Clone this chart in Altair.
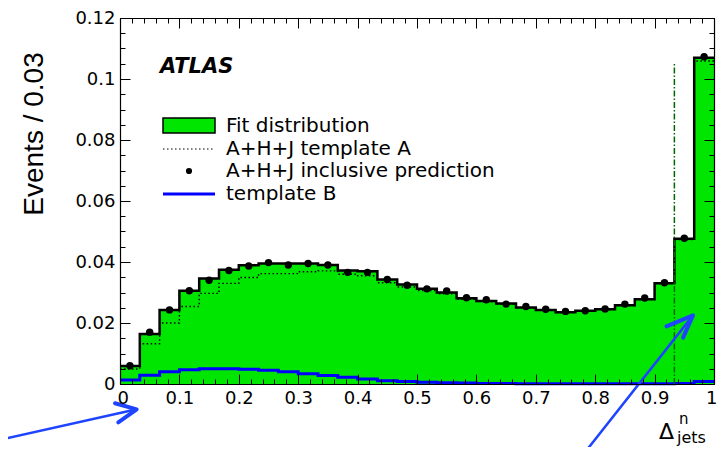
import altair as alt
import numpy as np
import pandas as pd

# ---------------- data ----------------
n_bins = 30
fit_values = [0.0059, 0.0164, 0.0243, 0.0306, 0.0346, 0.0375, 0.0389, 0.0395, 0.0395, 0.0395,
              0.0390, 0.0372, 0.0370, 0.0343, 0.0326, 0.0312, 0.0300, 0.0281, 0.0272, 0.0264,
              0.0251, 0.0243, 0.0235, 0.0240, 0.0245, 0.0258, 0.0278, 0.0330, 0.0476, 0.1070]
template_a = [0.0049, 0.0132, 0.0200, 0.0254, 0.0297, 0.0330, 0.0349, 0.0362, 0.0362, 0.0368,
              0.0371, 0.0360, 0.0355, 0.0332, 0.0318, 0.0306, 0.0296, 0.0278, 0.0270, 0.0262,
              0.0250, 0.0242, 0.0234, 0.0239, 0.0244, 0.0257, 0.0277, 0.0329, 0.0474, 0.1059]
template_b = [0.0013, 0.0029, 0.0040, 0.0047, 0.0050, 0.0050, 0.0048, 0.0045, 0.0040, 0.0034,
              0.0028, 0.0022, 0.0016, 0.0011, 0.0008, 0.0006, 0.0004, 0.0003, 0.0002, 0.0002,
              0.0001, 0.0001, 0.0001, 0.0001, 0.0001, 0.0001, 0.0001, 0.0001, 0.0002, 0.0008]
prediction = [0.0060, 0.0170, 0.0243, 0.0306, 0.0340, 0.0372, 0.0387, 0.0398, 0.0390, 0.0395,
              0.0390, 0.0366, 0.0366, 0.0343, 0.0324, 0.0312, 0.0305, 0.0283, 0.0276, 0.0262,
              0.0254, 0.0245, 0.0238, 0.0240, 0.0246, 0.0262, 0.0282, 0.0332, 0.0478, 0.1073]

boundary_x = [0.9333]
boundary_top = [0.105]

x_major = [0.0, 0.1, 0.2, 0.3, 0.4, 0.5, 0.6, 0.7, 0.8, 0.9, 1.0]
x_minor = [round(i * 0.02, 2) for i in range(51)]
y_major = [0.0, 0.02, 0.04, 0.06, 0.08, 0.10, 0.12]
y_minor = [round(i * 0.005, 3) for i in range(25)]

legend_labels = ["Fit distribution", "A+H+J template A", "A+H+J inclusive prediction", "template B"]

# annotation arrows (in data coordinates): shaft start, tip, two head arms
arrow_shafts = [
    [(-0.202, -0.0183), (0.0281, -0.0083)],
    [(0.7795, -0.0232), (0.9646, 0.0225)],
]
arrow_heads = [
    [(-0.0084, -0.0063), (0.0281, -0.0083), (-0.0029, -0.0126)],
    [(0.920, 0.0189), (0.9646, 0.0225), (0.948, 0.0152)],
]

# ---------------- tables ----------------
edges = np.linspace(0, 1, n_bins + 1)
step_df = pd.DataFrame({
    "x": edges,
    "fit": fit_values + [fit_values[-1]],
    "a": template_a + [template_a[-1]],
    "b": template_b + [template_b[-1]],
})
pts_df = pd.DataFrame({"x": (edges[:-1] + edges[1:]) / 2, "pred": prediction})
vline_df = pd.DataFrame({"x": boundary_x, "y": [0.0], "y2": boundary_top})

shaft_rows, head_rows = [], []
for i, seg in enumerate(arrow_shafts):
    for k, (xx, yy) in enumerate(seg):
        shaft_rows.append({"seg": i, "o": k, "x": xx, "y": yy})
for i, seg in enumerate(arrow_heads):
    for k, (xx, yy) in enumerate(seg):
        head_rows.append({"seg": i, "o": k, "x": xx, "y": yy})
shaft_df = pd.DataFrame(shaft_rows)
head_df = pd.DataFrame(head_rows)

# ---------------- scales & axes ----------------
xs = alt.Scale(domain=[0, 1], nice=False, zero=False)
ys = alt.Scale(domain=[0, 0.12], nice=False, zero=False)

LBL = "DejaVu Sans"


def lab_axis(orient, values, fmt, pad, flush=False):
    kw = dict(orient=orient, values=values, format=fmt, ticks=False, tickSize=0,
              domain=True, domainColor="black", domainWidth=1.2, labelFont=LBL,
              labelFontSize=18, labelColor="black", labelPadding=pad, grid=False,
              title=None, zindex=2, labelOverlap=False)
    if flush:
        kw.update(labelFlush=True, labelFlushOffset=3)
    else:
        kw.update(labelFlush=False)
    return alt.Axis(**kw)


def tick_axis(orient, values, size):
    return alt.Axis(orient=orient, values=values, offset=-size, tickSize=size, ticks=True,
                    tickColor="black", tickWidth=1, labels=False, domain=False, grid=False,
                    title=None, zindex=2)


def frame_axis(orient):
    return alt.Axis(orient=orient, ticks=False, labels=False, domain=True, domainColor="black",
                    domainWidth=1.2, grid=False, title=None, zindex=2)


x_axes = [lab_axis("bottom", x_major, ".1~f", 5, flush=True), tick_axis("bottom", x_major, 10),
          tick_axis("bottom", x_minor, 5), tick_axis("top", x_major, 10),
          tick_axis("top", x_minor, 5), frame_axis("top")]
y_axes = [lab_axis("left", y_major, ".2~f", 5), tick_axis("left", y_major, 10),
          tick_axis("left", y_minor, 5), tick_axis("right", y_major, 10),
          tick_axis("right", y_minor, 5), frame_axis("right")]

GREEN = "#00e600"
BLUE = "#0000ff"
ARROW = "#1f44ff"

area = alt.Chart(step_df).mark_area(interpolate="step-after", color=GREEN).encode(
    x=alt.X("x:Q", scale=xs, axis=x_axes[0]),
    y=alt.Y("fit:Q", scale=ys, axis=y_axes[0]),
)
tmpl_a = alt.Chart(step_df).mark_line(interpolate="step-after", color="black",
                                      strokeWidth=1.4, strokeDash=[1.5, 2.5]).encode(
    x=alt.X("x:Q", scale=xs, axis=x_axes[1]),
    y=alt.Y("a:Q", scale=ys, axis=y_axes[1]),
)
outline = alt.Chart(step_df).mark_line(interpolate="step-after", color="black",
                                       strokeWidth=2.5).encode(
    x=alt.X("x:Q", scale=xs, axis=x_axes[2]),
    y=alt.Y("fit:Q", scale=ys, axis=y_axes[2]),
)
tmpl_b = alt.Chart(step_df).mark_line(interpolate="step-after", color=BLUE,
                                      strokeWidth=3).encode(
    x=alt.X("x:Q", scale=xs, axis=x_axes[3]),
    y=alt.Y("b:Q", scale=ys, axis=y_axes[3]),
)
points = alt.Chart(pts_df).mark_circle(size=55, color="black", opacity=1).encode(
    x=alt.X("x:Q", scale=xs, axis=x_axes[4]),
    y=alt.Y("pred:Q", scale=ys, axis=y_axes[4]),
)
vline = alt.Chart(vline_df).mark_rule(color="#006600", strokeWidth=1.5,
                                      strokeDash=[6, 2, 1.5, 2]).encode(
    x=alt.X("x:Q", scale=xs, axis=x_axes[5]),
    y=alt.Y("y:Q", scale=ys, axis=y_axes[5]),
    y2="y2:Q",
)

shafts = alt.Chart(shaft_df).mark_line(color=ARROW, strokeWidth=2.5, clip=False,
                                       strokeCap="round").encode(
    x=alt.X("x:Q", scale=xs, axis=None),
    y=alt.Y("y:Q", scale=ys, axis=None),
    detail="seg:N", order="o:Q",
)
heads = alt.Chart(head_df).mark_line(color=ARROW, strokeWidth=4, clip=False,
                                     strokeCap="round", strokeJoin="round").encode(
    x=alt.X("x:Q", scale=xs, axis=None),
    y=alt.Y("y:Q", scale=ys, axis=None),
    detail="seg:N", order="o:Q",
)


def txt(s, px, py, size, font=LBL, weight="normal", style="normal", angle=0,
        align="left", baseline="alphabetic"):
    kw = dict(font=font, fontSize=size, fontWeight=weight, fontStyle=style, align=align,
              baseline=baseline, color="black")
    if angle:
        kw["angle"] = angle
    return alt.Chart(pd.DataFrame({"t": [s]})).mark_text(**kw).encode(
        text="t:N", x=alt.value(px), y=alt.value(py))


one = pd.DataFrame({"k": [0]})
legend_box = alt.Chart(one).mark_rect(fill=GREEN, stroke="black", strokeWidth=1.5).encode(
    x=alt.value(43), x2=alt.value(95), y=alt.value(100), y2=alt.value(115))
legend_dot_line = alt.Chart(one).mark_rule(color="black", strokeWidth=1.2,
                                           strokeDash=[1.5, 2.5]).encode(
    x=alt.value(43), x2=alt.value(95), y=alt.value(131))
legend_dot = alt.Chart(one).mark_circle(size=38, color="black", opacity=1).encode(
    x=alt.value(69), y=alt.value(153))
legend_blue = alt.Chart(one).mark_rule(color=BLUE, strokeWidth=3).encode(
    x=alt.value(43), x2=alt.value(95), y=alt.value(176))

legend_rows_y = [108, 131, 153, 176]
legend_texts = [txt(lbl, 106, yy, 20, baseline="middle")
                for lbl, yy in zip(legend_labels, legend_rows_y)]

texts = [
    txt("ATLAS", 40, 55, 21, weight="bold", style="italic"),
    txt("Events / 0.03", -85, 116, 28, font="Liberation Sans", angle=270,
        align="center", baseline="middle"),
    txt("Δ", 539, 421, 22),
    txt("n", 559, 406, 15),
    txt("jets", 557, 425, 16),
]

chart = alt.layer(
    area, tmpl_a, outline, tmpl_b, points, vline, shafts, heads,
    legend_box, legend_dot_line, legend_dot, legend_blue, *legend_texts, *texts,
).resolve_axis(x="independent", y="independent").properties(
    width=594, height=366,
    autosize=alt.AutoSizeParams(type="none"),
    padding={"left": 112, "top": 10, "right": 3, "bottom": 63},
).configure_view(stroke=None).configure(background="white")

chart.save("out.html", embed_options={"renderer": "svg", "actions": False})
